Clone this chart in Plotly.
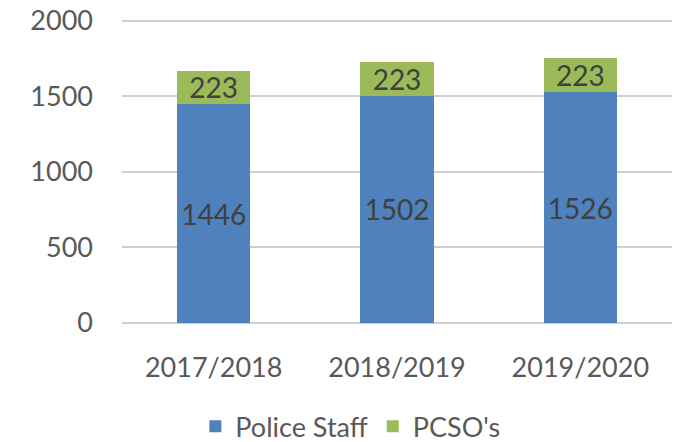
"""Stacked bar chart: Police Staff and PCSO's by year."""

import plotly.graph_objects as go

years = ["2017/2018", "2018/2019", "2019/2020"]
police_staff = [1446, 1502, 1526]
pcsos = [223, 223, 223]
y_ticks = [0, 500, 1000, 1500, 2000]

FONT = "Lato, 'Open Sans', sans-serif"

fig = go.Figure()
fig.add_trace(
    go.Bar(
        x=years,
        y=police_staff,
        name="Police Staff",
        marker={"color": "#4f81bd", "line": {"width": 0}},
        text=police_staff,
        textposition="inside",
        insidetextanchor="middle",
        constraintext="none",
        textfont={"family": FONT, "size": 28, "color": "#404040"},
    )
)
fig.add_trace(
    go.Bar(
        x=years,
        y=pcsos,
        name="PCSO's",
        marker={"color": "#9bbb59", "line": {"width": 0}},
        text=pcsos,
        textposition="inside",
        insidetextanchor="middle",
        constraintext="none",
        textfont={"family": FONT, "size": 28, "color": "#404040"},
    )
)
# page body has an 8px margin, so the figure is sized 8px smaller
fig.update_layout(
    width=682,
    height=434,
    barmode="stack",
    bargap=0.6,
    plot_bgcolor="white",
    paper_bgcolor="white",
    font={"family": FONT, "size": 27, "color": "#595959"},
    margin={"l": 114, "r": 18, "t": 10.5, "b": 119, "autoexpand": False},
    showlegend=True,
    legend={
        "orientation": "h",
        "traceorder": "normal",
        "xref": "container",
        "yref": "container",
        "x": 0.502,
        "xanchor": "center",
        "y": 0.035,
        "yanchor": "middle",
        "font": {"family": FONT, "size": 27, "color": "#595959"},
        "itemwidth": 30,
    },
    xaxis={
        "showgrid": False,
        "showline": False,
        "ticks": "",
        "automargin": False,
        "ticklabelstandoff": 26,
    },
    yaxis={
        "range": [0, 2010],
        "tickvals": y_ticks,
        "showgrid": True,
        "gridcolor": "#d0d0d0",
        "gridwidth": 2,
        "zeroline": True,
        "zerolinecolor": "#d0d0d0",
        "zerolinewidth": 2,
        "ticks": "",
        "automargin": False,
        "ticklabeloverflow": "allow",
        "ticklabelstandoff": 28,
    },
)

fig.write_html("out.html")
